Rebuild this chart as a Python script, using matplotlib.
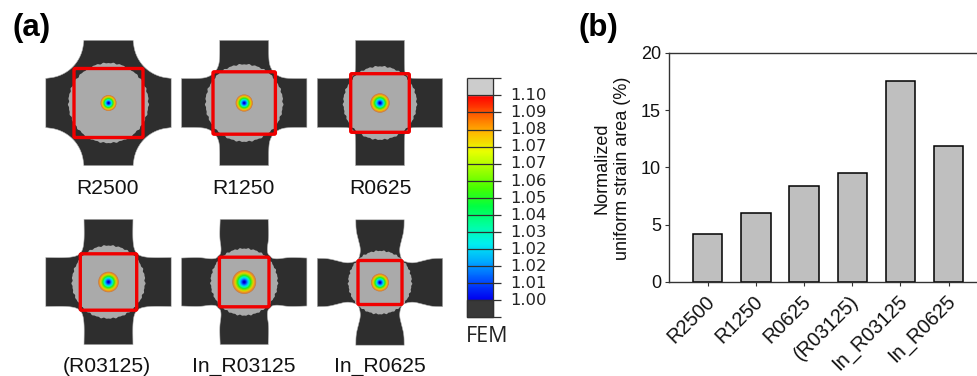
#!/usr/bin/env python3
"""Uniform strain maps of the cross specimens (a) and uniform strain area (b)."""

import numpy as np
import matplotlib
matplotlib.use('Agg')
import matplotlib.pyplot as plt
from matplotlib.colors import LinearSegmentedColormap
from matplotlib.patches import Circle, Polygon, FancyBboxPatch
from matplotlib.transforms import ScaledTranslation

plt.rcParams['font.family'] = ['Liberation Sans', 'DejaVu Sans']

W, H = 978, 376

# bar chart
categories = ['R2500', 'R1250', 'R0625', '(R03125)', 'In_R03125', 'In_R0625']
uniform_area = [4.2, 6.05, 8.37, 9.5, 17.53, 11.86]
y_ticks = [0, 5, 10, 15, 20]

# specimens, all lengths in pixels
spec_names = categories
spec_cx = [108.5, 244.2, 380, 108.5, 244.2, 380]
spec_cy = [103, 103, 103, 282, 282, 282.5]
label_x = [107.5, 243.6, 380, 107, 244, 380]
label_y = [189, 189, 189, 366, 366, 366]
gray_r = [40, 38.7, 36.7, 36.5, 33.5, 31.7]
ring_r = [8, 8.6, 9.7, 10.3, 12, 9]
red_half = [34.5, 31.2, 29.3, 28.2, 24.8, 22]
# edge of one arm, from the arm end to the diagonal: (half width, distance from centre)
edge_profiles = [
    [(24.6, 62.7), (25.9, 52.8), (29.7, 43.6), (35.7, 35.7)],
    [(24.5, 62.7), (24.5, 42), (26.5, 35), (30, 30)],
    [(24.5, 62.7), (24.5, 34), (25.2, 29.5), (27.3, 27.3)],
    [(24.5, 62.7), (24.2, 45), (25, 36), (26.5, 31), (28.5, 28.5)],
    [(24, 62.7), (24.5, 50), (24.3, 42), (23, 34), (23.5, 28), (26, 26)],
    [(24.2, 62.7), (24, 52), (21.5, 42), (19.5, 34), (20, 28), (22, 22)],
]

# legend of the FEM plot
cbar_labels = ['1.10', '1.09', '1.08', '1.07', '1.07', '1.06', '1.05',
               '1.04', '1.03', '1.02', '1.02', '1.01', '1.00']
cbar_colors = ['#ff0000', '#ff5d00', '#ffb900', '#e8ff00', '#a0ff00', '#45ff00',
               '#00ff45', '#00ffa0', '#00f0f0', '#00a8ff', '#0050ff', '#0000f0']
ring_colors = ['#00008c', '#0000e0', '#0060ff', '#00c0ff', '#00ffb0', '#20e820',
               '#90e000', '#e8d000', '#f09020', '#c08050']

DARK = '#2e2e2e'
GRAY = '#aaaaaa'


def chaikin(pts, n=3):
    """Round a polyline by corner cutting, the end points stay where they are."""
    pts = np.asarray(pts, float)
    for _ in range(n):
        q = 0.75 * pts[:-1] + 0.25 * pts[1:]
        r = 0.25 * pts[:-1] + 0.75 * pts[1:]
        mid = np.empty((2 * len(q), 2))
        mid[0::2] = q
        mid[1::2] = r
        pts = np.vstack([pts[0], mid, pts[-1]])
    return pts


def cross_outline(profile):
    """Mirror one arm edge into the closed outline of the whole cross."""
    half = np.array(profile)
    quad = chaikin(np.vstack([half, half[-2::-1, ::-1]]))
    outline = [quad * [1, -1], quad[::-1] * [1, 1], quad * [-1, 1], quad[::-1] * [-1, -1]]
    return np.vstack(outline)


fig = plt.figure(figsize=(W / 100, H / 100), dpi=100)

# ── pixel canvas for panel (a) and the free texts ───────────────────────────
canvas = fig.add_axes([0, 0, 1, 1])
canvas.set_xlim(0, W)
canvas.set_ylim(H, 0)
canvas.axis('off')

ring_cmap = LinearSegmentedColormap.from_list('rings', ring_colors)

for i, name in enumerate(spec_names):
    cx, cy = spec_cx[i], spec_cy[i]
    body = Polygon(cross_outline(edge_profiles[i]) + [cx, cy], closed=True,
                   facecolor=DARK, edgecolor='#b8b8b8', linewidth=0.4, zorder=2)
    canvas.add_patch(body)

    # the rim of the gray area is blocky in the FEM picture
    theta = np.linspace(0, 2 * np.pi, 720)
    rim = gray_r[i] + 0.35 * np.sin(29 * theta) + 0.3 * np.sin(47 * theta)
    blob = Polygon(np.column_stack([cx + rim * np.cos(theta), cy + rim * np.sin(theta)]),
                   closed=True, facecolor=GRAY, edgecolor='none', zorder=3)
    canvas.add_patch(blob)
    blob.set_clip_path(body)

    for k in np.linspace(1, 0.04, 30):
        canvas.add_patch(Circle((cx, cy), ring_r[i] * k, facecolor=ring_cmap(k),
                                edgecolor='none', zorder=4))

    h = red_half[i]
    canvas.add_patch(FancyBboxPatch((cx - h, cy - h), 2 * h, 2 * h,
                                    boxstyle='round,pad=0,rounding_size=1.2',
                                    facecolor='none', edgecolor='#f00000',
                                    linewidth=2.4, zorder=5))
    canvas.text(label_x[i], label_y[i], name, fontsize=15.2, ha='center', va='center',
                color='#111111')

# colour legend
bar_left, bar_right, tick_right = 467.3, 492.7, 500.7
step = 17.08
y_top = 78.3
y_tops = y_top + step * np.arange(15)
grad = LinearSegmentedColormap.from_list('fem', cbar_colors)
canvas.imshow(np.linspace(0, 1, 240)[:, None], cmap=grad, aspect='auto', zorder=2,
              extent=(bar_left, bar_right, y_tops[13], y_tops[1]), origin='upper')
canvas.set_xlim(0, W)
canvas.set_ylim(H, 0)
canvas.fill_between([bar_left, bar_right], y_tops[0], y_tops[1], color='#cccccc', zorder=2)
canvas.fill_between([bar_left, bar_right], y_tops[13], y_tops[14], color='#383838', zorder=2)
canvas.hlines(y_tops, bar_left, tick_right, color='#303030', linewidth=0.9, zorder=3)
canvas.vlines([bar_left, bar_right], y_tops[0], y_tops[14], color='#303030',
              linewidth=0.9, zorder=3)
for y, lab in zip(y_tops[1:14], cbar_labels):
    canvas.text(510.5, y + 0.3, lab, family='DejaVu Sans', fontsize=11.8, ha='left',
                va='center', color='#222222')
canvas.text(487, 337, 'FEM', family='Open Sans', fontsize=15.5, ha='center', va='center',
            color='#222222')

canvas.text(12, 28, '(a)', fontsize=22.5, fontweight='bold', ha='left', va='center')
canvas.text(578, 28, '(b)', fontsize=22.5, fontweight='bold', ha='left', va='center')
canvas.text(612, 168, 'Normalized\nuniform strain area (%)', fontsize=13, rotation=90,
            ha='center', va='center', linespacing=1.25, color='#111111')

# ── panel (b) ───────────────────────────────────────────────────────────────
ax_left, ax_top, ax_bottom = 669.3, 52.7, 282
ax = fig.add_axes([ax_left / W, 1 - ax_bottom / H, 1 - ax_left / W, (ax_bottom - ax_top) / H])
ax.patch.set_alpha(0)
x = np.arange(len(categories))
ax.bar(x, uniform_area, width=0.61, color='#bfbfbf', edgecolor='black', linewidth=1.1)
ax.set_xlim(-0.797, 5.608)
ax.set_ylim(0, 20)
ax.set_yticks(y_ticks)
ax.set_xticks(x)
ax.set_xticklabels(categories, rotation=45, ha='right', rotation_mode='anchor')
ax.tick_params(axis='both', labelsize=13, length=3, width=0.8, color='#333333',
               labelcolor='#111111')
ax.tick_params(axis='x', pad=4, labelsize=14.3)
ax.tick_params(axis='y', pad=3)
# the slanted labels sit a little left of their ticks
shift = ScaledTranslation(-3 / 100, 0, fig.dpi_scale_trans)
for lab in ax.get_xticklabels():
    lab.set_transform(lab.get_transform() + shift)
for s in ax.spines.values():
    s.set_color('#333333')
    s.set_linewidth(1.0)

fig.savefig('out.png', dpi=100)
